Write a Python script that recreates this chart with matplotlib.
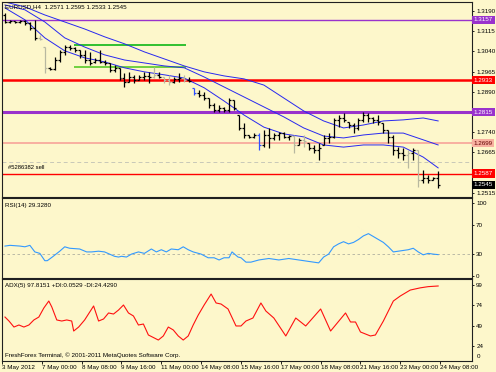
import numpy as np
import matplotlib
matplotlib.use('Agg')
import matplotlib.pyplot as plt

plt.rcParams['font.family'] = ['Liberation Sans', 'DejaVu Sans']

# H4 EURUSD bars, 3 May - 24 May 2012
opens = [1.3175, 1.3149, 1.3153, 1.3149, 1.3153, 1.3145, 1.3127, 1.3090, 1.3056, 1.2979,
         1.2975, 1.3008, 1.3038, 1.3056, 1.3053, 1.3045, 1.3027, 1.3008, 1.2999, 1.3008,
         1.3001, 1.2997, 1.2971, 1.2979, 1.2941, 1.2927, 1.2945, 1.2934, 1.2945, 1.2949,
         1.2945, 1.2953, 1.2945, 1.2934, 1.2927, 1.2938, 1.2941, 1.2934, 1.2905, 1.2886,
         1.2878, 1.2867, 1.2841, 1.2823, 1.2830, 1.2823, 1.2860, 1.2804, 1.2756, 1.2730,
         1.2723, 1.2730, 1.2693, 1.2730, 1.2719, 1.2730, 1.2737, 1.2723, 1.2726, 1.2693,
         1.2712, 1.2700, 1.2682, 1.2674, 1.2693, 1.2719, 1.2723, 1.2786, 1.2793, 1.2778,
         1.2767, 1.2756, 1.2786, 1.2804, 1.2793, 1.2786, 1.2774, 1.2748, 1.2723, 1.2674,
         1.2663, 1.2656, 1.2663, 1.2674, 1.2563, 1.2571, 1.2563, 1.2571]
highs = [1.3183, 1.3157, 1.3153, 1.3157, 1.3157, 1.3149, 1.3157, 1.3101, 1.3056, 1.2982,
         1.3019, 1.3045, 1.3064, 1.3064, 1.3056, 1.3045, 1.3045, 1.3038, 1.3016, 1.3045,
         1.3008, 1.2997, 1.2990, 1.2979, 1.2960, 1.2964, 1.2953, 1.2953, 1.2964, 1.2964,
         1.2982, 1.2964, 1.2945, 1.2953, 1.2945, 1.2960, 1.2953, 1.2945, 1.2905, 1.2897,
         1.2890, 1.2867, 1.2849, 1.2841, 1.2834, 1.2867, 1.2860, 1.2804, 1.2774, 1.2730,
         1.2737, 1.2737, 1.2748, 1.2756, 1.2737, 1.2741, 1.2741, 1.2730, 1.2730, 1.2719,
         1.2730, 1.2700, 1.2693, 1.2700, 1.2730, 1.2737, 1.2793, 1.2804, 1.2812, 1.2778,
         1.2774, 1.2793, 1.2815, 1.2812, 1.2797, 1.2804, 1.2774, 1.2748, 1.2730, 1.2685,
         1.2682, 1.2674, 1.2682, 1.2674, 1.2600, 1.2582, 1.2574, 1.2595]
lows = [1.3145, 1.3145, 1.3145, 1.3145, 1.3138, 1.3120, 1.3082, 1.3082, 1.2960, 1.2971,
        1.2971, 1.3001, 1.3027, 1.3045, 1.3038, 1.3016, 1.2997, 1.2990, 1.2997, 1.2997,
        1.2990, 1.2964, 1.2964, 1.2934, 1.2908, 1.2927, 1.2923, 1.2934, 1.2934, 1.2923,
        1.2941, 1.2941, 1.2923, 1.2916, 1.2923, 1.2927, 1.2927, 1.2927, 1.2878, 1.2871,
        1.2860, 1.2830, 1.2815, 1.2815, 1.2815, 1.2815, 1.2823, 1.2748, 1.2719, 1.2719,
        1.2719, 1.2674, 1.2685, 1.2682, 1.2712, 1.2712, 1.2719, 1.2712, 1.2663, 1.2693,
        1.2685, 1.2674, 1.2663, 1.2637, 1.2693, 1.2700, 1.2719, 1.2759, 1.2778, 1.2756,
        1.2737, 1.2748, 1.2778, 1.2778, 1.2774, 1.2767, 1.2737, 1.2700, 1.2656, 1.2645,
        1.2637, 1.2608, 1.2637, 1.2537, 1.2552, 1.2552, 1.2563, 1.2533]
closes = [1.3149, 1.3153, 1.3149, 1.3153, 1.3145, 1.3127, 1.3090, 1.3086, 1.2979, 1.2975,
          1.3008, 1.3038, 1.3056, 1.3053, 1.3045, 1.3027, 1.3008, 1.2997, 1.3008, 1.3001,
          1.2997, 1.2971, 1.2979, 1.2941, 1.2927, 1.2945, 1.2934, 1.2945, 1.2949, 1.2945,
          1.2953, 1.2945, 1.2934, 1.2927, 1.2938, 1.2941, 1.2934, 1.2930, 1.2886, 1.2878,
          1.2867, 1.2841, 1.2823, 1.2830, 1.2823, 1.2860, 1.2830, 1.2756, 1.2730, 1.2723,
          1.2730, 1.2693, 1.2730, 1.2719, 1.2730, 1.2737, 1.2723, 1.2726, 1.2693, 1.2712,
          1.2708, 1.2682, 1.2674, 1.2682, 1.2719, 1.2723, 1.2786, 1.2793, 1.2786, 1.2767,
          1.2756, 1.2786, 1.2804, 1.2793, 1.2786, 1.2778, 1.2748, 1.2723, 1.2674, 1.2663,
          1.2656, 1.2663, 1.2674, 1.2563, 1.2571, 1.2563, 1.2571, 1.2545]

# moving averages, read every 4 bars
ma_idx = [0, 4, 8, 12, 16, 20, 24, 28, 32, 36, 40, 44, 48, 52, 56, 60, 64, 68, 72, 76, 80, 84, 87]
ma_fast = [1.3201, 1.3157, 1.3090, 1.3042, 1.3016, 1.3001, 1.2979, 1.2964, 1.2953, 1.2941, 1.2905, 1.2856,
           1.2804, 1.2759, 1.2734, 1.2723, 1.2693, 1.2685, 1.2693, 1.2693, 1.2685, 1.2648, 1.2608]
ma_mid = [1.3212, 1.3194, 1.3149, 1.3090, 1.3056, 1.3027, 1.3008, 1.2997, 1.2986, 1.2979, 1.2945, 1.2908,
          1.2871, 1.2834, 1.2797, 1.2756, 1.2726, 1.2719, 1.2730, 1.2737, 1.2737, 1.2712, 1.2693]
ma_slow = [1.3223, 1.3205, 1.3175, 1.3149, 1.3123, 1.3094, 1.3068, 1.3038, 1.3012, 1.2986, 1.2964, 1.2949,
           1.2938, 1.2915, 1.2867, 1.2819, 1.2782, 1.2756, 1.2767, 1.2782, 1.2786, 1.2793, 1.2782]

# RSI(14)
rsi_idx = [0, 1, 3, 4, 5, 6, 7, 8, 8.5, 9.5, 11, 12, 13, 15, 16.4, 17.4, 18.8, 20, 22, 22.8, 23.4, 24.4,
           25.4, 26.8, 28, 29.4, 30.4, 31.4, 32.4, 33.4, 34.8, 35.8, 36.8, 37.8, 39.4, 40.8, 42, 43, 44,
           45, 45.6, 46.8, 47.4, 48.4, 49.4, 51, 53, 55, 57, 59, 61, 63, 64, 65, 66, 67, 68, 69, 70, 71,
           72, 73, 74, 75, 76, 77, 78, 79, 80, 81, 82, 83, 84, 85, 86, 87]
rsi_val = [41, 42, 41, 40, 42, 33, 31, 21, 21, 26, 34, 40, 38, 37, 33, 33, 34, 33, 27, 26, 27, 26,
           30, 33, 31, 37, 33, 36, 33, 37, 36, 40, 36, 33, 30, 25, 25, 22, 25,
           25, 33, 26, 25, 19, 19, 22, 24, 22, 24, 22, 20, 18, 26, 30, 40, 44, 47, 44, 46, 50,
           55, 58, 54, 50, 46, 40, 33, 34, 35, 36, 38, 33, 29, 31, 30, 29.3]

# ADX(5)
adx_idx = [0, 0.8, 1.8, 2.8, 3.8, 4.8, 5.8, 6.8, 7.8, 8.8, 9.4, 10.4, 11.4, 12.4, 13.4, 13.8, 14.8, 16,
           17.8, 18.8, 19.8, 20.8, 21.8, 22.8, 23.8, 24.8, 25.8, 26.8, 27.8, 28.8, 30, 30.8, 31.8, 32.8,
           33.8, 34.8, 35.8, 36.8, 37.8, 38.8, 40, 41.4, 42.4, 43.4, 44.8, 46.4, 47.4, 48.4, 49.8, 51.4,
           52.4, 54, 56.4, 58.4, 60.4, 63.4, 65.4, 68.4, 69.4, 70.4, 71.4, 73.4, 74.4, 76, 78, 79.4,
           81.4, 83.4, 85, 87]
adx_val = [59.6, 54.7, 47.3, 49.8, 47.3, 49.8, 56.0, 59.6, 70.7, 79.3, 72.0, 56.0, 54.7, 56.0, 54.7, 42.4,
           47.3, 56.0, 73.2, 54.7, 57.2, 64.6, 63.3, 68.2, 74.4, 64.6, 60.9, 49.8, 51.0, 37.5, 33.8, 31.3,
           36.3, 47.3, 43.7, 36.3, 31.3, 36.3, 49.8, 61.9, 74.4, 87.9, 76.9, 75.6, 69.5, 48.6, 48.6, 54.7,
           58.4, 76.9, 67.0, 58.4, 36.3, 58.4, 48.6, 69.5, 42.4, 64.6, 53.5, 53.5, 41.2, 36.3, 37.5, 54.7,
           79.3, 85.5, 92.8, 95.5, 97.0, 97.8]

x_labels = ['3 May 2012', '7 May 00:00', '8 May 08:00', '9 May 16:00', '11 May 00:00', '14 May 08:00',
            '15 May 16:00', '17 May 00:00', '18 May 08:00', '21 May 16:00', '23 May 00:00', '24 May 08:00']

# horizontal levels: price, colour, width, label text colour
levels = [(1.3157, '#9932cc', 1.0, 'white'),
          (1.2933, '#ff0000', 1.8, 'white'),
          (1.2815, '#9932cc', 2.2, 'white'),
          (1.2699, '#f8b0a0', 1.4, '#600000'),
          (1.2587, '#ff0000', 1.0, 'white')]
green_lines = [1.3064, 1.2982]
gray_bars = [7, 8, 30, 32, 33, 36, 58, 60, 81, 83]
blue_bars = [38, 51]

FS = 4.5
bg = '#fdf7cb'
W, H = 496, 372
fig = plt.figure(figsize=(W / 100, H / 100), dpi=100, facecolor=bg)


def panel(x0, y0, x1, y1):
    a = fig.add_axes([x0 / W, 1 - y1 / H, (x1 - x0) / W, (y1 - y0) / H], facecolor=bg)
    a.set_xlim(-0.6, 93.8)
    a.yaxis.tick_right()
    a.tick_params(axis='y', labelsize=FS, length=1.5, width=0.6, pad=1.5)
    a.tick_params(axis='x', bottom=False, labelbottom=False)
    for s in a.spines.values():
        s.set_color('#202020')
        s.set_linewidth(0.8)
    return a


ax = panel(2, 2, 472, 197)
ax_rsi = panel(2, 198, 472, 278)
ax_adx = panel(2, 279, 472, 361)

# price panel
n = len(closes)
idx = np.arange(n)
cols = []
for i in range(n):
    if i in gray_bars:
        cols.append('#b8b8a0')
    elif i in blue_bars:
        cols.append('#3050ff')
    else:
        cols.append('black')

ax.axhline(1.2630, color='#c8c8b8', lw=0.7, ls=(0, (4, 3)))
for price, c, lw, tc in levels:
    ax.axhline(price, color=c, lw=lw)
    ax.text(1.004, price, f'{price:.4f}', transform=ax.get_yaxis_transform(), fontsize=FS,
            color=tc, va='center', ha='left', clip_on=False,
            bbox=dict(boxstyle='square,pad=0.25', fc=c, ec='none'))
ax.text(1.004, closes[-1], f'{closes[-1]:.4f}', transform=ax.get_yaxis_transform(), fontsize=FS,
        color='white', va='center', ha='left', clip_on=False,
        bbox=dict(boxstyle='square,pad=0.25', fc='black', ec='none'))
ax.hlines(green_lines, 13.8, 36.4, colors=['#30c030', '#70d040'], lw=1.4)

ax.plot(ma_idx, ma_slow, color='#2828f0', lw=0.7)
ax.plot(ma_idx, ma_mid, color='#2828f0', lw=0.7)
ax.plot(ma_idx, ma_fast, color='#2828f0', lw=0.7)

ax.vlines(idx, lows, highs, colors=cols, lw=0.9)
ax.hlines(opens, idx - 0.4, idx, colors=cols, lw=0.9)
ax.hlines(closes, idx, idx + 0.4, colors=cols, lw=0.9)

ax.set_ylim(1.2500, 1.3223)
ax.set_yticks([1.2515, 1.2665, 1.2740, 1.2890, 1.2965, 1.3040, 1.3115, 1.3190])
ax.set_yticklabels([f'{v:.4f}' for v in ax.get_yticks()])
ax.text(0.006, 0.978, 'EURUSD,H4  1.2571 1.2595 1.2533 1.2545', transform=ax.transAxes,
        fontsize=FS, va='center', ha='left')
ax.text(0.6, 1.2610, '#5286382 sell', fontsize=4.2, va='center', ha='left')

# RSI panel
ax_rsi.axhline(30, color='#b0b0a0', lw=0.6, ls=(0, (3, 3)))
ax_rsi.plot(rsi_idx, rsi_val, color='#3399ff', lw=0.8)
ax_rsi.set_ylim(-2.7, 106.8)
ax_rsi.set_yticks([0, 30, 70, 100])
ax_rsi.text(0.006, 0.91, 'RSI(14) 29.3280', transform=ax_rsi.transAxes, fontsize=FS, va='center')

# ADX panel
ax_adx.plot(adx_idx, adx_val, color='#ff1010', lw=0.8)
ax_adx.set_ylim(5.5, 106.4)
ax_adx.set_yticks([24, 49, 74, 99])
ax_adx.text(1.01, 0.05, '0', transform=ax_adx.transAxes, fontsize=FS, va='center', ha='left')
ax_adx.text(0.006, 0.915, 'ADX(5) 97.8151 +DI:0.0529 -DI:24.4290', transform=ax_adx.transAxes,
            fontsize=FS, va='center')
ax_adx.text(0.006, 0.07, 'FreshForex Terminal, © 2001-2011 MetaQuotes Software Corp.',
            transform=ax_adx.transAxes, fontsize=FS, va='center')

ax_adx.tick_params(axis='x', bottom=True, labelbottom=True, labelsize=FS, length=2, width=0.6, pad=1)
ax_adx.set_xticks(np.arange(len(x_labels)) * 8 - 0.6)
ax_adx.set_xticklabels(x_labels, ha='left')

fig.savefig('out.png', dpi=100, facecolor=bg)
